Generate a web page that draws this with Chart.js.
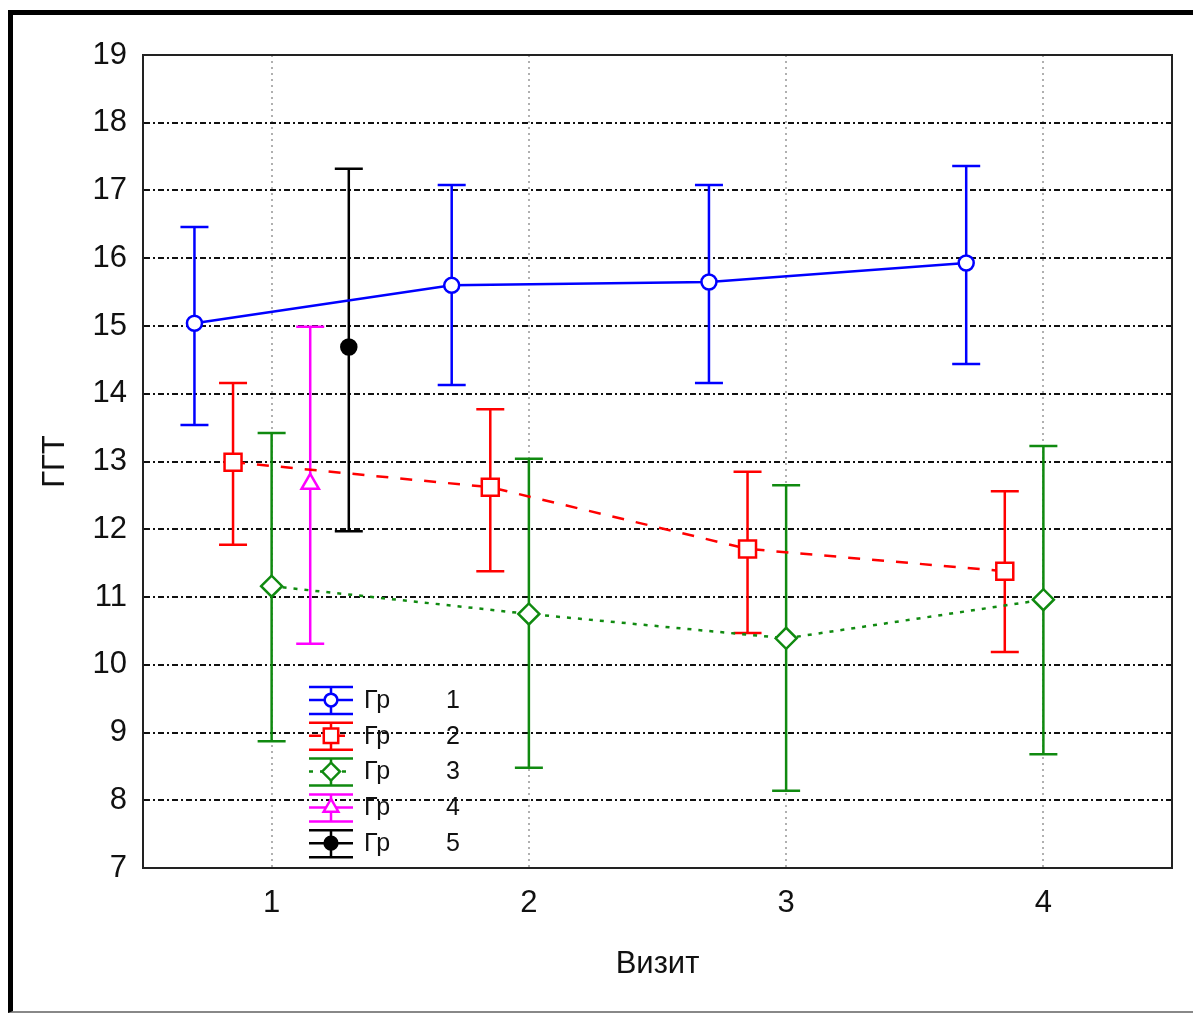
<!DOCTYPE html>
<html>
<head>
<meta charset="utf-8">
<script src="https://cdn.jsdelivr.net/npm/chart.js@4.4.0/dist/chart.umd.min.js"></script>
<style>
  html, body { margin: 0; padding: 0; background: #fff; }
  #wrap { position: relative; width: 1193px; height: 1014px; overflow: hidden; }
  #frame {
    position: absolute; left: 8px; top: 10px; width: 1200px; height: 996px;
    border-left: 5px solid #000; border-top: 5px solid #000; border-bottom: 2px solid #888;
    pointer-events: none;
  }
</style>
</head>
<body>
<div id="wrap">
  <canvas id="c" width="1193" height="1014"></canvas>
  <div id="frame"></div>
</div>
<script>
// values
const visits = [1, 2, 3, 4];
const xTicks = [1, 2, 3, 4];
const yMin = 7, yMax = 19;
const groupNums = ['1', '2', '3', '4', '5'];

const gr1Mean = [15.04, 15.60, 15.65, 15.93];
const gr1Low  = [13.54, 14.13, 14.16, 14.44];
const gr1High = [16.46, 17.08, 17.08, 17.36];

const gr2Mean = [12.99, 12.62, 11.71, 11.38];
const gr2Low  = [11.77, 11.38, 10.47, 10.19];
const gr2High = [14.16, 13.77, 12.85, 12.56];

const gr3Mean = [11.16, 10.75, 10.39, 10.96];
const gr3Low  = [8.87, 8.48, 8.14, 8.68];
const gr3High = [13.42, 13.04, 12.65, 13.23];

const gr4Mean = [12.67];
const gr4Low  = [10.31];
const gr4High = [14.99];

const gr5Mean = [14.69];
const gr5Low  = [11.97];
const gr5High = [17.32];

const FONT = "'Liberation Sans', Arial, sans-serif";

function makeSet(mean, low, high, shift, color, style, radius, fill, dash) {
  return {
    data: mean.map((v, i) => ({ x: visits[i] + shift, y: v })),
    low, high,
    borderColor: color,
    borderWidth: 2.5,
    borderDash: dash,
    showLine: true,
    pointStyle: style,
    pointRadius: radius,
    pointHoverRadius: radius,
    pointBorderWidth: 2.5,
    pointBorderColor: color,
    pointBackgroundColor: fill
  };
}

const datasets = [
  makeSet(gr1Mean, gr1Low, gr1High, -0.3, '#0000ff', 'circle', 7.5, '#fff', []),
  makeSet(gr2Mean, gr2Low, gr2High, -0.15, '#ff0000', 'rect', 12, '#fff', [12, 12]),
  makeSet(gr3Mean, gr3Low, gr3High, 0, '#108a10', 'rectRot', 10.5, '#fff', [4, 7]),
  makeSet(gr4Mean, gr4Low, gr4High, 0.15, '#ff00ff', 'triangle', 10, '#fff', []),
  makeSet(gr5Mean, gr5Low, gr5High, 0.3, '#000000', 'circle', 7.5, '#000', [])
];

const errorBars = {
  id: 'errorBars',
  beforeDatasetsDraw(chart) {
    const { ctx, chartArea: a, scales: { x, y } } = chart;
    ctx.save();
    // plot frame
    ctx.strokeStyle = '#222';
    ctx.lineWidth = 2;
    ctx.strokeRect(a.left, a.top, a.right - a.left, a.bottom - a.top);
    chart.data.datasets.forEach(ds => {
      ctx.strokeStyle = ds.borderColor;
      ctx.lineWidth = 2.5;
      ctx.setLineDash([]);
      ds.data.forEach((p, i) => {
        const px = x.getPixelForValue(p.x);
        const yl = y.getPixelForValue(ds.low[i]);
        const yh = y.getPixelForValue(ds.high[i]);
        ctx.beginPath();
        ctx.moveTo(px, yl); ctx.lineTo(px, yh);
        ctx.moveTo(px - 14, yl); ctx.lineTo(px + 14, yl);
        ctx.moveTo(px - 14, yh); ctx.lineTo(px + 14, yh);
        ctx.stroke();
      });
    });
    ctx.restore();
  }
};

const boxLegend = {
  id: 'boxLegend',
  afterDatasetsDraw(chart) {
    const { ctx, chartArea: a } = chart;
    const x0 = a.left + 166, w = 44;
    ctx.save();
    chart.data.datasets.forEach((ds, i) => {
      const cy = a.top + 645 + i * 35.8;
      const cx = x0 + w / 2;
      ctx.strokeStyle = ds.borderColor;
      ctx.lineWidth = 2.5;
      ctx.setLineDash([]);
      ctx.beginPath();
      ctx.moveTo(x0, cy - 13); ctx.lineTo(x0 + w, cy - 13);
      ctx.moveTo(x0, cy + 14); ctx.lineTo(x0 + w, cy + 14);
      ctx.moveTo(cx, cy - 13); ctx.lineTo(cx, cy + 14);
      ctx.stroke();
      ctx.setLineDash(ds.borderDash);
      ctx.beginPath();
      ctx.moveTo(x0, cy); ctx.lineTo(x0 + w, cy);
      ctx.stroke();
      ctx.setLineDash([]);
      ctx.fillStyle = ds.pointBackgroundColor;
      Chart.helpers.drawPoint(ctx, {
        pointStyle: ds.pointStyle, radius: ds.pointRadius * 0.85, rotation: 0, borderWidth: 2.5
      }, cx, cy);
      ctx.fillStyle = '#111';
      ctx.font = '25px ' + FONT;
      ctx.textBaseline = 'middle';
      ctx.textAlign = 'left';
      ctx.fillText('Гр', x0 + 55, cy + 1);
      ctx.fillText(groupNums[i], x0 + 137, cy + 1);
    });
    ctx.restore();
  }
};

new Chart(document.getElementById('c'), {
  type: 'scatter',
  data: { datasets },
  plugins: [errorBars, boxLegend],
  options: {
    responsive: false,
    animation: false,
    events: [],
    layout: { padding: { left: 0, right: 21, top: 55, bottom: 0 } },
    plugins: { legend: { display: false }, tooltip: { enabled: false } },
    scales: {
      x: {
        type: 'linear',
        min: 0.5,
        max: 4.5,
        afterBuildTicks: s => { s.ticks = xTicks.map(v => ({ value: v })); },
        afterFit: s => { s.height = 146; },
        grid: { color: '#b0b0b0', lineWidth: 2, drawTicks: false },
        border: { display: true, color: '#222', width: 2, dash: [2, 4] },
        ticks: { color: '#111', padding: 17, font: { family: FONT, size: 31 } },
        title: {
          display: true, text: 'Визит', color: '#111',
          font: { family: FONT, size: 31 }, padding: { top: 0, bottom: 31 }
        }
      },
      y: {
        min: yMin,
        max: yMax,
        afterFit: s => { s.width = 143; },
        ticks: { stepSize: 1, color: '#111', padding: 16, font: { family: FONT, size: 31 } },
        grid: { color: '#111', lineWidth: 2, drawTicks: false },
        border: { display: true, color: '#222', width: 2, dash: [6, 3, 2, 3] },
        title: {
          display: true, text: 'ГГТ', color: '#111',
          font: { family: FONT, size: 31 }, padding: { top: 37, bottom: 0 }
        }
      }
    }
  }
});
</script>
</body>
</html>
